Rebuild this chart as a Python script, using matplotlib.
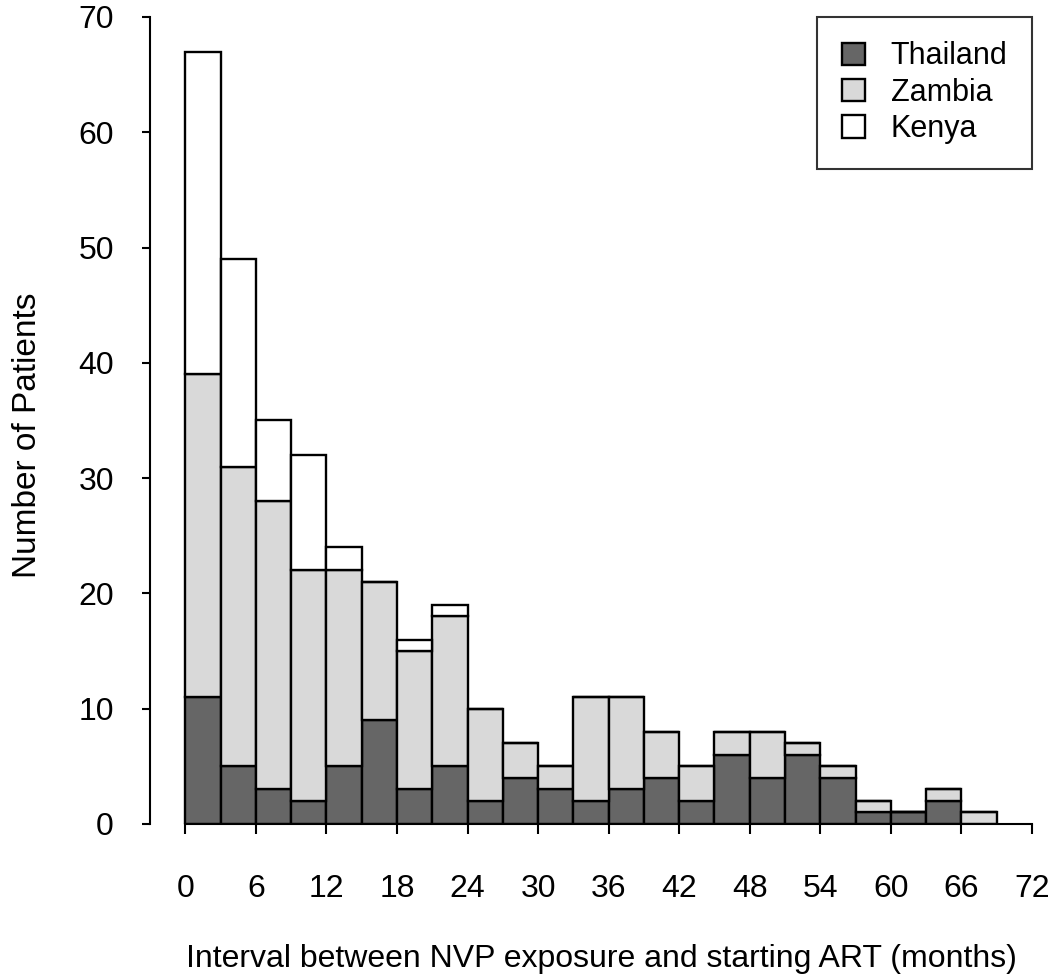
import matplotlib.pyplot as plt
import numpy as np

# Bin left edges (months), bins of width 3
bin_starts = [0, 3, 6, 9, 12, 15, 18, 21, 24, 27, 30, 33, 36, 39, 42, 45, 48, 51, 54, 57, 60, 63, 66]
thailand = [11, 5, 3, 2, 5, 9, 3, 5, 2, 4, 3, 2, 3, 4, 2, 6, 4, 6, 4, 1, 1, 2, 0]
zambia = [28, 26, 25, 20, 17, 12, 12, 13, 8, 3, 2, 9, 8, 4, 3, 2, 4, 1, 1, 1, 0, 1, 1]
kenya = [28, 18, 7, 10, 2, 0, 1, 1, 0, 0, 0, 0, 0, 0, 0, 0, 0, 0, 0, 0, 0, 0, 0]
x_ticks = [0, 6, 12, 18, 24, 30, 36, 42, 48, 54, 60, 66, 72]
y_ticks = [0, 10, 20, 30, 40, 50, 60, 70]

plt.rcParams['font.family'] = ['Liberation Sans', 'DejaVu Sans']

fig = plt.figure(figsize=(10.52, 9.75), dpi=100)
ax = fig.add_axes([0.1426, 0.1549, 0.981 - 0.1426, 0.9826 - 0.1549])

left = np.array(bin_starts)
th = np.array(thailand)
za = np.array(zambia)
ke = np.array(kenya)
kw = dict(width=3, align='edge', edgecolor='black', linewidth=1.7)
ax.bar(left, th, color='#666666', label='Thailand', **kw)
ax.bar(left, za, bottom=th, color='#d9d9d9', label='Zambia', **kw)
ax.bar(left, ke, bottom=th + za, color='white', label='Kenya', **kw)

ax.set_xlim(-3, 72)
ax.set_ylim(0, 70)
ax.spines['top'].set_visible(False)
ax.spines['right'].set_visible(False)
ax.spines['bottom'].set_bounds(0, 72)
ax.spines['left'].set_linewidth(1.5)
ax.spines['bottom'].set_linewidth(1.5)

ax.set_xticks(x_ticks)
ax.set_yticks(y_ticks)
ax.tick_params(axis='x', length=7, width=1.5, pad=29, labelsize=23)
ax.tick_params(axis='y', length=6, width=1.5, pad=20, labelsize=23)

ax.set_xlabel('Interval between NVP exposure and starting ART (months)', fontsize=23)
ax.xaxis.set_label_coords(0.512, -0.1487)
ax.set_ylabel('Number of Patients', fontsize=24)
ax.yaxis.set_label_coords(-0.121, 0.482)

leg = ax.legend(loc='upper right', fontsize=22, frameon=True, fancybox=False,
                edgecolor='black', handlelength=0.75, handleheight=0.75,
                borderpad=0.8, labelspacing=0.21, handletextpad=0.85,
                borderaxespad=0, bbox_to_anchor=(1.0, 1.0))
leg.get_frame().set_linewidth(1.5)

plt.savefig('out.png', dpi=100)
